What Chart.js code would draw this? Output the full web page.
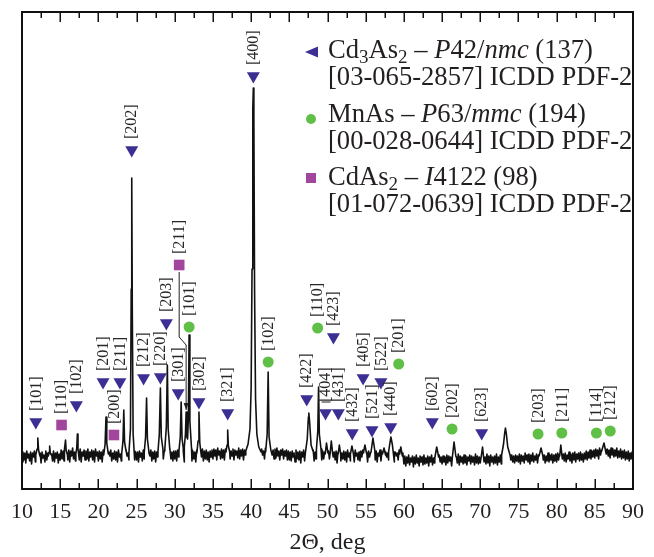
<!DOCTYPE html>
<html>
<head>
<meta charset="utf-8">
<script src="https://cdn.jsdelivr.net/npm/chart.js@4.4.1/dist/chart.umd.min.js"></script>
<style>
  html, body { margin: 0; padding: 0; background: #fff; }
</style>
</head>
<body>
<canvas id="xrd" width="654" height="557"></canvas>
<script>
// ---- measured pattern: baseline sampled every 0.125 deg from 10 to 90 (intensity, arb. units)
const baseStart = 10;
const baseStep = 0.125;
const baseline = `
27 37 29 36 26 38 31 35 28 37 25 36 32 38 27 35 30 39 28 36 26 37 31 34 27 38 29 36 25 37 32 35 28 38 27 36 31 37 26 35
29 39 30 38 28 40 33 37 29 39 27 38 33 41 30 37 28 39 32 38 29 40 27 37 33 39 29 38 30 40 28 37 32 39 29 38 27 40 33 37
28 38 30 37 27 39 32 36 29 38 26 37 33 39 28 36 30 38 29 37 27 39 32 35 28 38 30 37 26 39 33 36 29 37 28 38 32 39 29 37
29 37 27 38 32 36 28 39 30 37 29 38 26 36 33 39 28 37 30 38 27 37 32 36 29 39 28 37 30 38 26 37 33 36 29 39 30 37 28 38
30 38 28 39 32 37 29 40 33 37 27 38 30 39 29 37 32 40 28 38 30 37 27 39 33 38 29 37 32 40 28 38 30 39 29 37 27 38 32 39
30 40 33 39 29 41 34 38 30 40 31 39 29 40 34 39 31 41 30 38 33 40 29 39 34 38 31 41 30 39 33 40 29 39 34 41 31 40 35 41
37 42 33 40 31 39 30 40 32 39 29 40 34 38 30 41 31 39 33 40 29 38 34 39 30 40 31 41 33 38 29 39 34 40 30 38 33 39 29 38
29 37 28 38 32 36 27 39 30 37 29 38 26 37 32 39 28 36 30 38 27 37 33 36 29 39 28 37 30 38 27 37 32 36 29 38 30 37 28 38
28 38 30 36 27 39 32 37 29 38 26 37 33 39 28 36 30 38 29 37 27 39 32 36 28 38 30 37 27 39 33 36 29 37 28 38 32 39 29 37
29 37 27 38 32 36 28 39 30 37 29 38 27 36 33 39 28 37 30 38 27 37 32 36 29 39 28 37 30 38 27 37 33 36 29 39 30 37 28 36
25 33 23 32 26 34 24 31 27 33 22 32 25 34 26 31 23 33 27 32 24 34 25 31 26 33 23 32 27 34 24 31 26 33 25 32 23 34 27 32
25 33 27 32 24 34 26 33 28 32 23 34 27 33 25 32 26 35 24 33 27 32 25 34 26 33 24 32 28 34 25 33 27 32 24 35 26 33 25 32
26 34 24 33 27 32 25 35 26 33 23 34 27 32 25 33 26 35 24 32 27 34 25 33 26 35 28 33 26 34 27 35 29 34 27 33 26 34 28 33
27 35 25 34 28 33 26 36 29 34 27 35 25 34 28 36 27 33 29 35 26 34 28 36 27 35 29 34 26 33 28 36 27 34 29 35 26 34 28 35
27 36 29 35 26 37 30 35 28 36 27 34 30 37 28 35 26 36 29 37 27 35 30 36 28 37 29 35 27 36 30 38 29 37 31 39 30 38 32 39
31 40 33 39 30 41 34 39 32 40 31 41 35 40 33 39 31 41 34 40 32 39 33 41 31 38 32 40 30 38 31 39 29 37 30 38 28 36 30 37
33`.trim().split(/\s+/).map(Number);

// ---- peaks, [2theta, intensity]
const peaks = [
  [[11.8,34],[11.97,40],[12.07,51],[12.17,39],[12.35,33]],
  [[13.45,33],[13.55,37],[13.62,43],[13.7,36],[13.85,34]],
  [[15.5,35],[15.62,40],[15.7,49],[15.78,39],[15.95,34]],
  [[17.05,35],[17.17,41],[17.25,55],[17.33,40],[17.5,34]],
  [[20.7,34],[20.88,45],[21.0,72],[21.1,46],[21.3,35]],
  [[23.05,35],[23.22,48],[23.33,79],[23.43,47],[23.62,38]],
  [[24.0,36],[24.2,60],[24.3,200],[24.37,311],[24.44,180],[24.55,55],[24.75,38]],
  [[26.0,36],[26.18,52],[26.31,91],[26.42,50],[26.62,37]],
  [[27.8,37],[27.98,55],[28.12,101],[28.24,52],[28.45,40]],
  [[28.7,40],[28.9,62],[29.03,124],[29.14,60],[29.35,40]],
  [[30.55,38],[30.72,52],[30.84,87],[30.96,50],[31.1,42]],
  [[31.25,42],[31.4,55],[31.49,77],[31.58,52],[31.68,50],[31.78,70],[31.88,154],[31.98,68],[32.2,40]],
  [[32.9,36],[33.05,48],[33.17,77],[33.28,46],[33.5,36]],
  [[36.7,37],[36.85,44],[36.93,59],[37.02,43],[37.2,37]],
  [[39.3,38],[39.6,45],[39.85,60],[40.0,100],[40.12,220],[40.22,380],[40.29,401],[40.36,370],[40.45,200],[40.58,90],[40.75,55],[41.0,42],[41.3,37]],
  [[41.9,37],[42.1,55],[42.23,117],[42.35,52],[42.6,38]],
  [[47.1,36],[47.35,50],[47.5,72],[47.56,76],[47.65,68],[47.85,44],[48.1,38]],
  [[48.55,40],[48.73,58],[48.83,102],[48.93,55],[49.15,40]],
  [[49.7,35],[49.87,46],[50.05,36]],
  [[50.35,36],[50.5,48],[50.68,35]],
  [[51.4,35],[51.55,44],[51.72,35]],
  [[53.0,35],[53.2,43],[53.4,35]],
  [[54.7,36],[54.9,44],[55.1,36]],
  [[55.7,37],[55.95,51],[56.2,38]],
  [[57.2,35],[57.4,41],[57.6,34]],
  [[58.0,37],[58.15,45],[58.3,52],[58.5,44],[58.75,37]],
  [[59.45,35],[59.6,42],[59.8,33]],
  [[64.05,31],[64.3,42],[64.55,32]],
  [[66.35,32],[66.57,47],[66.8,33]],
  [[70.1,31],[70.3,42],[70.5,31]],
  [[72.8,34],[73.05,45],[73.2,56],[73.3,61],[73.42,55],[73.6,42],[73.9,34]],
  [[77.7,33],[77.96,41],[78.2,33]],
  [[80.4,33],[80.55,44],[80.7,33]],
  [[85.9,38],[86.2,46],[86.5,39]]
];

// ---- phase markers
const cdLabels = ['[101]','[102]','[201]','[211]','[202]','[212]','[220]','[203]','[301]','[302]','[321]','[400]',
  '[422]','[404]','[423]','[431]','[432]','[405]','[521]','[522]','[440]','[602]','[623]'];
const cdX = [11.81,17.12,20.61,22.82,24.37,25.92,28.12,28.90,30.45,33.17,36.93,40.29,
  47.28,49.74,50.78,51.42,53.24,54.66,55.83,56.99,58.28,63.72,70.19];
const cdY = [67,84,107,107,339,111,112,166,96,87,76,413,
  90,76,152,76,56,111,59,107,62,67,56];

const mnLabels = ['[101]','[102]','[110]','[201]','[202]','[203]','[211]','[114]','[212]'];
const mnX = [31.88,42.23,48.71,59.32,66.31,77.57,80.68,85.21,87.02];
const mnY = [162,127,161,125,60,55,56,56,58];

const caLabels = ['[110]','[200]','[211]'];
const caX = [15.18,22.04,30.58];
const caY = [64,54,224];

// leader lines (data coords)
const leader211 = [[30.58,217],[30.58,152],[31.49,144],[31.49,79]];
const leader404 = [[49.22,87],[50.4,87]];

const xTicks = [10,15,20,25,30,35,40,45,50,55,60,65,70,75,80,85,90];

const CD_COLOR = '#3b2f93';
const MN_COLOR = '#5fbf46';
const CA_COLOR = '#a2459d';
const SERIF = '"Liberation Serif", "DejaVu Serif", serif';

// merge baseline with peak profiles
const windows = peaks.map(p => [p[0][0], p[p.length - 1][0]]);
const spectrum = [];
baseline.forEach((v, i) => {
  const x = baseStart + i * baseStep;
  if (!windows.some(w => x > w[0] && x < w[1])) spectrum.push({ x: x, y: v });
});
peaks.forEach(p => p.forEach(([x, y]) => spectrum.push({ x: x, y: y })));
spectrum.sort((a, b) => a.x - b.x);

const toPts = (xs, ys) => xs.map((x, i) => ({ x: x, y: ys[i] }));

const markerLabels = [null, cdLabels, mnLabels, caLabels];

const decorPlugin = {
  id: 'decor',
  afterDatasetsDraw(chart) {
    const { ctx, chartArea: a, scales } = chart;
    const sx = scales.x, sy = scales.y;

    // peak labels (rotated)
    ctx.save();
    ctx.font = '16px ' + SERIF;
    ctx.fillStyle = '#2a2627';
    ctx.textAlign = 'left';
    ctx.textBaseline = 'middle';
    for (let d = 1; d <= 3; d++) {
      const meta = chart.getDatasetMeta(d);
      meta.data.forEach((pt, j) => {
        ctx.save();
        ctx.translate(pt.x + 0.5, pt.y - 11);
        ctx.rotate(-Math.PI / 2);
        ctx.fillText(markerLabels[d][j], 0, 0);
        ctx.restore();
      });
    }
    ctx.restore();

    // leader lines
    ctx.save();
    ctx.strokeStyle = '#231f20';
    ctx.lineWidth = 1;
    ctx.beginPath();
    leader211.forEach(([x, y], i) => {
      const px = sx.getPixelForValue(x), py = sy.getPixelForValue(y);
      if (i === 0) ctx.moveTo(px, py); else ctx.lineTo(px, py);
    });
    ctx.stroke();
    const tip = leader211[leader211.length - 1];
    const tx = sx.getPixelForValue(tip[0]), ty = sy.getPixelForValue(tip[1]);
    ctx.fillStyle = '#231f20';
    ctx.beginPath();
    ctx.moveTo(tx - 2.5, ty - 7);
    ctx.lineTo(tx + 2.5, ty - 7);
    ctx.lineTo(tx, ty);
    ctx.closePath();
    ctx.fill();
    ctx.beginPath();
    ctx.moveTo(sx.getPixelForValue(leader404[0][0]), sy.getPixelForValue(leader404[0][1]));
    ctx.lineTo(sx.getPixelForValue(leader404[1][0]), sy.getPixelForValue(leader404[1][1]));
    ctx.stroke();
    ctx.restore();

    // frame + inward ticks
    ctx.save();
    ctx.strokeStyle = '#111';
    ctx.lineWidth = 2;
    ctx.strokeRect(a.left, a.top, a.right - a.left, a.bottom - a.top);
    ctx.lineWidth = 1.5;
    ctx.beginPath();
    for (let v = 10; v <= 90; v += 2.5) {
      const px = Math.round(sx.getPixelForValue(v)) + 0.25;
      const len = (v % 5 === 0) ? 10 : 6;
      ctx.moveTo(px, a.bottom);
      ctx.lineTo(px, a.bottom - len);
      ctx.moveTo(px, a.top);
      ctx.lineTo(px, a.top + len);
    }
    ctx.stroke();
    ctx.restore();
  },
  afterDraw(chart) {
    const ctx = chart.ctx;
    const x0 = 328;
    const main = 26.6, sub = 19;
    const runsLine = (runs, y) => {
      let x = x0;
      runs.forEach(r => {
        const style = r[1] || 'n';
        const size = style === 's' ? sub : main;
        ctx.font = (style === 'i' ? 'italic ' : '') + size + 'px ' + SERIF;
        ctx.fillText(r[0], x, style === 's' ? y + 5 : y);
        x += ctx.measureText(r[0]).width;
      });
    };
    ctx.save();
    ctx.fillStyle = '#231f20';
    ctx.textBaseline = 'alphabetic';
    ctx.textAlign = 'left';
    runsLine([['Cd'], ['3', 's'], ['As'], ['2', 's'], [' \u2013 '], ['P', 'i'], ['42/'], ['nmc', 'i'], [' (137)']], 58);
    runsLine([['[03-065-2857] ICDD PDF-2']], 85);
    runsLine([['MnAs \u2013 '], ['P', 'i'], ['63/'], ['mmc', 'i'], [' (194)']], 122);
    runsLine([['[00-028-0644] ICDD PDF-2']], 149);
    runsLine([['CdAs'], ['2', 's'], [' \u2013 '], ['I', 'i'], ['4122 (98)']], 185);
    runsLine([['[01-072-0639] ICDD PDF-2']], 212);

    // legend symbols
    ctx.fillStyle = CD_COLOR;
    ctx.beginPath();
    ctx.moveTo(305, 52);
    ctx.lineTo(318, 46.5);
    ctx.lineTo(318, 57.5);
    ctx.closePath();
    ctx.fill();
    ctx.fillStyle = MN_COLOR;
    ctx.beginPath();
    ctx.arc(311, 119, 5, 0, Math.PI * 2);
    ctx.fill();
    ctx.fillStyle = CA_COLOR;
    ctx.fillRect(306, 173, 10, 10);
    ctx.restore();
  }
};

new Chart(document.getElementById('xrd'), {
  type: 'scatter',
  data: {
    datasets: [
      {
        data: spectrum,
        showLine: true,
        pointRadius: 0,
        borderColor: '#111',
        borderWidth: 1.6,
        borderJoinStyle: 'round',
        tension: 0,
        order: 2
      },
      {
        data: toPts(cdX, cdY),
        pointStyle: 'triangle',
        pointRotation: 180,
        pointRadius: 7.5,
        backgroundColor: CD_COLOR,
        borderWidth: 0,
        order: 1
      },
      {
        data: toPts(mnX, mnY),
        pointStyle: 'circle',
        pointRadius: 5.5,
        backgroundColor: MN_COLOR,
        borderWidth: 0,
        order: 1
      },
      {
        data: toPts(caX, caY),
        pointStyle: 'rect',
        pointRadius: 7.5,
        backgroundColor: CA_COLOR,
        borderWidth: 0,
        order: 1
      }
    ]
  },
  options: {
    responsive: false,
    animation: false,
    devicePixelRatio: 1,
    layout: { padding: { left: 22, right: 14, top: 12, bottom: 0 } },
    plugins: { legend: { display: false }, tooltip: { enabled: false } },
    scales: {
      x: {
        type: 'linear',
        min: 10,
        max: 90,
        grid: { display: false, drawTicks: false },
        border: { display: false },
        afterBuildTicks: s => { s.ticks = xTicks.map(v => ({ value: v })); },
        afterFit: s => { s.height = 68; },
        ticks: {
          autoSkip: false,
          maxRotation: 0,
          padding: 10,
          color: '#231f20',
          font: { family: SERIF, size: 22 }
        },
        title: {
          display: true,
          text: '2\u0398, deg',
          color: '#231f20',
          font: { family: SERIF, size: 24 },
          padding: { top: 0, bottom: 0 }
        }
      },
      y: { display: false, min: 0, max: 477 }
    }
  },
  plugins: [decorPlugin]
});
</script>
</body>
</html>
